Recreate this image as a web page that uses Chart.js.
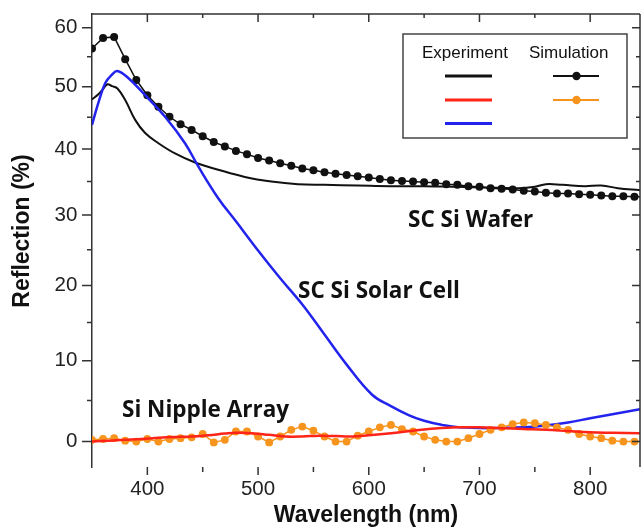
<!DOCTYPE html>
<html>
<head>
<meta charset="utf-8">
<script src="https://cdn.jsdelivr.net/npm/chart.js@4.4.1/dist/chart.umd.min.js"></script>
<style>
	html, body { margin: 0; padding: 0; background: #fff; overflow: hidden; }
	canvas { display: block; }
</style>
</head>
<body>
<canvas id="reflection" width="644" height="529"></canvas>
<script>
	// wavelength axis (nm) and reflection axis (%)
	var xTicks = [400, 500, 600, 700, 800];
	var xMinor = [450, 550, 650, 750];
	var yTicks = [0, 10, 20, 30, 40, 50, 60];
	var yMinor = [5, 15, 25, 35, 45, 55];

	// measured spectra
	var waferExpNm = [350, 356, 360, 364, 368, 373, 380, 389, 398, 410, 425, 443, 464, 488, 512, 536, 560, 590, 620, 650, 680, 705, 735, 750, 760, 775, 795, 810, 825, 845];
	var waferExp   = [47.9, 48.8, 49.6, 50.4, 50.1, 49.7, 47.8, 44.6, 42.5, 40.9, 39.3, 37.9, 36.8, 35.7, 35.0, 34.6, 34.5, 34.4, 34.3, 34.3, 34.2, 34.1, 34.0, 34.2, 34.6, 34.5, 34.3, 34.4, 34.0, 33.7];

	var cellExpNm = [350, 356, 362, 368, 373, 383, 398, 416, 434, 446, 464, 480, 500, 520, 540, 560, 580, 603, 620, 636, 650, 666, 681, 710, 740, 758, 780, 800, 820, 845];
	var cellExp   = [43.8, 47.5, 50.6, 52.0, 52.6, 51.4, 48.6, 45.1, 40.9, 37.3, 32.5, 29.1, 24.9, 21.0, 17.4, 13.4, 9.5, 5.7, 4.3, 3.2, 2.5, 2.0, 1.7, 1.6, 1.7, 1.9, 2.3, 2.8, 3.3, 3.9];

	var nippleExpNm = [350, 365, 380, 395, 410, 425, 440, 455, 470, 480, 495, 510, 525, 540, 555, 570, 585, 600, 620, 640, 660, 680, 700, 720, 740, 760, 780, 800, 820, 845];
	var nippleExp   = [0.0, 0.1, 0.2, 0.3, 0.45, 0.55, 0.6, 0.75, 0.95, 1.05, 1.0, 0.8, 0.6, 0.6, 0.7, 0.65, 0.6, 0.75, 1.0, 1.3, 1.55, 1.7, 1.7, 1.6, 1.5, 1.4, 1.25, 1.1, 1.05, 1.0];

	// simulated spectra, 10 nm steps
	var simNm = [350, 360, 370, 380, 390, 400, 410, 420, 430, 440, 450, 460, 470, 480, 490, 500, 510, 520, 530, 540, 550, 560, 570, 580, 590, 600, 610, 620, 630, 640, 650, 660, 670, 680, 690, 700, 710, 720, 730, 740, 750, 760, 770, 780, 790, 800, 810, 820, 830, 840, 850];
	var waferSim = [56.4, 58.2, 58.4, 54.6, 51.1, 48.6, 46.7, 45.1, 43.9, 43.0, 42.0, 41.1, 40.4, 39.7, 39.2, 38.6, 38.2, 37.8, 37.4, 37.0, 36.7, 36.4, 36.2, 36.0, 35.8, 35.6, 35.4, 35.2, 35.1, 35.0, 34.9, 34.8, 34.6, 34.5, 34.3, 34.2, 34.0, 33.9, 33.8, 33.6, 33.5, 33.3, 33.2, 33.2, 33.1, 33.0, 32.9, 32.8, 32.8, 32.7, 32.7];
	var nippleSim = [0.2, 0.3, 0.4, 0.1, 0.0, 0.3, 0.0, 0.3, 0.4, 0.5, 0.9, -0.1, 0.2, 1.2, 1.2, 0.6, -0.1, 0.6, 1.4, 1.8, 1.3, 0.6, 0.0, 0.0, 0.7, 1.2, 1.7, 2.0, 1.5, 1.2, 0.6, 0.2, 0.0, 0.0, 0.4, 0.9, 1.4, 1.7, 2.1, 2.3, 2.2, 2.0, 1.7, 1.4, 0.9, 0.6, 0.4, 0.1, 0.0, 0.0, 0.0];

	var BLACK = '#111111';
	var RED = '#ff2418';
	var BLUE = '#2323ee';
	var ORANGE = '#f7941d';
	var FRAME = '#333333';
	var Y_SHIFT = 130;

	function points(xs, ys)
	{
		return xs.map(function(x, i) { return {x: x, y: ys[i]}; });
	}

	// y axis of the original figure is compressed towards the top: log(v + 130)
	class WarpScale extends Chart.LinearScale
	{
		static id = 'warp';
		static defaults = Chart.LinearScale.defaults;
		warp(v) { return Math.log(v + Y_SHIFT); }
		getPixelForValue(value)
		{
			var a = this.warp(this.min), b = this.warp(this.max);
			return this.getPixelForDecimal((this.warp(value) - a) / (b - a));
		}
		getValueForPixel(pixel)
		{
			var a = this.warp(this.min), b = this.warp(this.max);
			return Math.exp(a + this.getDecimalForPixel(pixel) * (b - a)) - Y_SHIFT;
		}
	}
	Chart.register(WarpScale);

	function tickLine(ctx, x1, y1, x2, y2)
	{
		ctx.moveTo(x1, y1);
		ctx.lineTo(x2, y2);
	}

	var framePlugin =
	{
		id: 'frame',
		afterDraw: function(chart)
		{
			var ctx = chart.ctx;
			var a = chart.chartArea;
			var x = chart.scales.x, y = chart.scales.y;
			ctx.save();
			ctx.strokeStyle = FRAME;
			ctx.lineWidth = 1.5;
			ctx.beginPath();
			tickLine(ctx, a.left, a.top, a.right, a.top);
			tickLine(ctx, a.right, a.top, a.right, a.bottom);
			xTicks.forEach(function(v) {
				var p = x.getPixelForValue(v);
				tickLine(ctx, p, a.top, p, a.top + 8);
				tickLine(ctx, p, a.bottom, p, a.bottom + 8);
			});
			xMinor.forEach(function(v) {
				var p = x.getPixelForValue(v);
				tickLine(ctx, p, a.top, p, a.top + 4);
				tickLine(ctx, p, a.bottom, p, a.bottom + 5);
			});
			yTicks.forEach(function(v) {
				var p = y.getPixelForValue(v);
				tickLine(ctx, a.left - 10, p, a.left, p);
				tickLine(ctx, a.right - 8, p, a.right, p);
			});
			yMinor.forEach(function(v) {
				var p = y.getPixelForValue(v);
				tickLine(ctx, a.left - 5, p, a.left, p);
				tickLine(ctx, a.right - 4, p, a.right, p);
			});
			ctx.stroke();

			// y axis title
			ctx.fillStyle = BLACK;
			ctx.font = 'bold 23px "Liberation Sans", Arial, sans-serif';
			ctx.textAlign = 'center';
			ctx.textBaseline = 'middle';
			ctx.save();
			ctx.translate(23, 231);
			ctx.rotate(-Math.PI / 2);
			ctx.fillText('Reflection (%)', 0, 0);
			ctx.restore();

			// curve labels
			ctx.textAlign = 'left';
			ctx.textBaseline = 'alphabetic';
			ctx.font = 'bold 22.5px "Open Sans", sans-serif';
			ctx.fillText('SC Si Wafer', 408, 227);
			ctx.fillText('SC Si Solar Cell', 298, 298);
			ctx.fillText('Si Nipple Array', 122, 417);

			// legend box
			ctx.fillStyle = '#fff';
			ctx.fillRect(403, 34, 224, 104);
			ctx.strokeStyle = '#444';
			ctx.lineWidth = 1.5;
			ctx.strokeRect(403, 34, 224, 104);
			ctx.fillStyle = BLACK;
			ctx.font = '17px "Liberation Sans", Arial, sans-serif';
			ctx.fillText('Experiment', 422, 57.5);
			ctx.fillText('Simulation', 529, 57.5);

			ctx.lineWidth = 3;
			[[BLACK, 76], [RED, 100], [BLUE, 123.5]].forEach(function(s) {
				ctx.strokeStyle = s[0];
				ctx.beginPath();
				tickLine(ctx, 445, s[1], 492, s[1]);
				ctx.stroke();
			});
			[[BLACK, 76], [ORANGE, 100]].forEach(function(s) {
				ctx.strokeStyle = s[0];
				ctx.fillStyle = s[0];
				ctx.lineWidth = 1.8;
				ctx.beginPath();
				tickLine(ctx, 553, s[1], 599, s[1]);
				ctx.stroke();
				ctx.beginPath();
				ctx.arc(576.5, s[1], 4.2, 0, Math.PI * 2);
				ctx.fill();
			});
			ctx.restore();
		}
	};

	window.onload = () =>
	{
		var ctx = document.getElementById('reflection').getContext('2d');
		var tickFont = {family: '"Liberation Sans", Arial, sans-serif', size: 20.5};
		var chartConfig =
		{
			type: 'line',
			data:
			{
				datasets: [
				{
					label: 'Si Nipple Array (experiment)',
					data: points(nippleExpNm, nippleExp),
					borderColor: RED,
					borderWidth: 2.5,
					pointRadius: 0,
					tension: 0.4
				},
				{
					label: 'Si Nipple Array (simulation)',
					data: points(simNm, nippleSim),
					borderColor: ORANGE,
					backgroundColor: ORANGE,
					borderWidth: 1.5,
					pointRadius: 3.9,
					pointBorderWidth: 0,
					tension: 0
				},
				{
					label: 'SC Si Solar Cell (experiment)',
					data: points(cellExpNm, cellExp),
					borderColor: BLUE,
					borderWidth: 2.5,
					pointRadius: 0,
					tension: 0.4
				},
				{
					label: 'SC Si Wafer (experiment)',
					data: points(waferExpNm, waferExp),
					borderColor: BLACK,
					borderWidth: 2,
					pointRadius: 0,
					tension: 0.4
				},
				{
					label: 'SC Si Wafer (simulation)',
					data: points(simNm, waferSim),
					borderColor: BLACK,
					backgroundColor: BLACK,
					borderWidth: 1.5,
					pointRadius: 4,
					pointBorderWidth: 0,
					tension: 0
				}]
			},
			options:
			{
				responsive: false,
				animation: false,
				layout: { padding: { top: 14, left: 0, right: 0, bottom: 0 } },
				plugins:
				{
					legend: { display: false },
					tooltip: { enabled: false }
				},
				scales:
				{
					x:
					{
						type: 'linear',
						min: 350,
						max: 845,
						afterBuildTicks: function(s) { s.ticks = xTicks.map(function(v) { return {value: v}; }); },
						afterFit: function(s) { s.height = 62; s.paddingLeft = 0; s.paddingRight = 0; },
						grid: { display: false, drawTicks: false },
						border: { display: false },
						ticks: { padding: 10.5, color: '#222', font: tickFont, maxRotation: 0 },
						title:
						{
							display: true,
							text: 'Wavelength (nm)',
							color: BLACK,
							padding: { top: 0, bottom: 0 },
							font: { family: '"Liberation Sans", Arial, sans-serif', size: 23, weight: 'bold' }
						}
					},
					y:
					{
						type: 'warp',
						min: -3,
						max: 62.4,
						afterBuildTicks: function(s) { s.ticks = yTicks.map(function(v) { return {value: v}; }); },
						afterFit: function(s) { s.width = 92; s.paddingTop = 0; s.paddingBottom = 0; },
						grid: { display: false, drawTicks: false },
						border: { display: true, color: FRAME, width: 1.5 },
						ticks: { padding: 14.7, color: '#222', font: tickFont, callback: function(v) { return v; } }
					}
				}
			},
			plugins: [framePlugin]
		};
		var chart = new Chart(ctx, chartConfig);
	};
</script>
</body>
</html>
